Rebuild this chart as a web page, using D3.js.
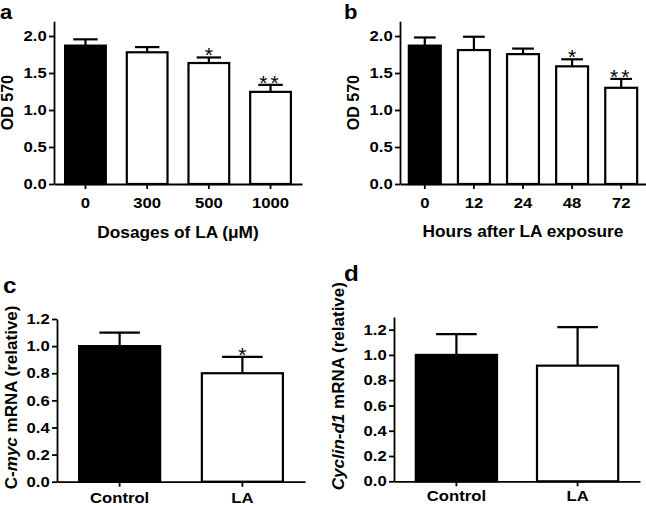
<!DOCTYPE html>
<html>
<head>
<meta charset="utf-8">
<script src="https://cdn.jsdelivr.net/npm/d3@7"></script>
<style>
  html, body { margin: 0; padding: 0; background: #fff; }
  svg { display: block; }
</style>
</head>
<body>
<svg id="chart" width="646" height="506"></svg>
<script>
// ---- Panel a: OD 570 vs dosage ----
const aCategories = ["0", "300", "500", "1000"];
const aMeans = [1.87, 1.78, 1.635, 1.245];
const aSem = [0.085, 0.07, 0.075, 0.095];
const aSig = ["", "", "*", "**"];

// ---- Panel b: OD 570 vs hours ----
const bCategories = ["0", "12", "24", "48", "72"];
const bMeans = [1.87, 1.81, 1.755, 1.59, 1.30];
const bSem = [0.11, 0.18, 0.075, 0.095, 0.12];
const bSig = ["", "", "", "*", "**"];

// ---- Panel c: C-myc mRNA ----
const cCategories = ["Control", "LA"];
const cMeans = [1.0, 0.80];
const cSem = [0.10, 0.12];
const cSig = ["", "*"];

// ---- Panel d: Cyclin-d1 mRNA ----
const dCategories = ["Control", "LA"];
const dMeans = [1.0, 0.915];
const dSem = [0.165, 0.305];
const dSig = ["", ""];

// tick values
const odTicks = [0.0, 0.5, 1.0, 1.5, 2.0];
const mrnaTicks = [0.0, 0.2, 0.4, 0.6, 0.8, 1.0, 1.2];

const FONT = "'Liberation Sans', Arial, Helvetica, sans-serif";
const svg = d3.select("#chart");

function styleText(sel, size, weight) {
  sel.style("font-family", FONT).style("font-size", size + "px")
     .style("font-weight", weight || "bold").style("fill", "#000");
  return sel;
}

function panel(cfg) {
  const g = svg.append("g");
  const x = d3.scaleBand().domain(cfg.categories)
    .range([cfg.left, cfg.right]).paddingInner(cfg.pi).paddingOuter(0.18);
  const y = d3.scaleLinear().domain([0, cfg.ymax]).range([cfg.bottom, cfg.top]);

  const data = cfg.categories.map((c, i) => ({c, m: cfg.means[i], s: cfg.sem[i], sig: cfg.sig[i], i}));
  const bars = g.selectAll("g.bar").data(data).join("g");
  const capW = x.bandwidth() * cfg.capFrac;
  const cx = d => x(d.c) + x.bandwidth() / 2;
  bars.append("line")
    .attr("x1", cx).attr("x2", cx)
    .attr("y1", d => y(d.m)).attr("y2", d => y(d.m + d.s))
    .attr("stroke", "#000").attr("stroke-width", 2.2);
  bars.append("line")
    .attr("x1", d => cx(d) - capW / 2).attr("x2", d => cx(d) + capW / 2)
    .attr("y1", d => y(d.m + d.s)).attr("y2", d => y(d.m + d.s))
    .attr("stroke", "#000").attr("stroke-width", 2.2);
  bars.append("rect")
    .attr("x", d => x(d.c)).attr("width", x.bandwidth())
    .attr("y", d => y(d.m)).attr("height", d => y(0) - y(d.m))
    .attr("fill", d => d.i === 0 ? "#000" : "#fff")
    .attr("stroke", "#000").attr("stroke-width", 2.2);
  styleText(bars.filter(d => d.sig).append("text")
    .attr("x", cx)
    .attr("y", d => y(d.m + d.s) + 5)
    .attr("text-anchor", "middle")
    .attr("letter-spacing", d => d.sig.length > 1 ? 3 : 0)
    .text(d => d.sig), 21, "normal");

  const ya = g.append("g").attr("transform", `translate(${cfg.left},0)`)
    .call(d3.axisLeft(y).tickValues(cfg.ticks).tickFormat(d3.format(".1f")).tickSize(5).tickSizeOuter(0).tickPadding(1.4));
  const xa = g.append("g").attr("transform", `translate(0,${cfg.bottom})`)
    .call(d3.axisBottom(x).tickSize(5).tickSizeOuter(0).tickPadding(cfg.xpad));
  [ya, xa].forEach(a => {
    a.select(".domain").attr("stroke-width", 1.8);
    a.selectAll(".tick line").attr("stroke-width", 1.8);
    styleText(a.selectAll("text"), 14.5, "bold").attr("transform", "scale(1.15,1)");
  });

  if (cfg.xtitle) {
    styleText(g.append("text")
      .attr("transform", `translate(${(cfg.left + cfg.right) / 2},${cfg.xtitleY}) scale(1.08,1)`)
      .attr("text-anchor", "middle").text(cfg.xtitle), 16, "bold");
  }
  const yt = styleText(g.append("text")
    .attr("transform", `translate(${cfg.ytitleX},${(cfg.top + cfg.bottom) / 2 + (cfg.ytitleDy || 0)}) rotate(-90)`)
    .attr("text-anchor", "middle"), cfg.ytitleSize, "bold");
  cfg.ytitle.forEach(p => yt.append("tspan").style("font-style", p.italic ? "italic" : "normal").text(p.t));

  styleText(g.append("text").attr("transform", `translate(${cfg.letterX},${cfg.letterY}) scale(1.1,1)`)
    .text(cfg.letter), cfg.letterSize, "bold");
}

panel({
  categories: aCategories, means: aMeans, sem: aSem, sig: aSig,
  left: 54, right: 302, top: 21.2, bottom: 184, ymax: 2.2, pi: 0.34, capFrac: 0.6,
  ticks: odTicks, xpad: 9, xtitle: "Dosages of LA (\u03BCM)", xtitleY: 238,
  ytitle: [{t: "OD 570"}], ytitleX: 13, ytitleSize: 16, ytitleDy: 0,
  letter: "a", letterX: 0, letterY: 19, letterSize: 20
});
panel({
  categories: bCategories, means: bMeans, sem: bSem, sig: bSig,
  left: 400, right: 646, top: 21.2, bottom: 184, ymax: 2.2, pi: 0.35, capFrac: 0.68,
  ticks: odTicks, xpad: 9, xtitle: "Hours after LA exposure", xtitleY: 237,
  ytitle: [{t: "OD 570"}], ytitleX: 359, ytitleSize: 16, ytitleDy: 0,
  letter: "b", letterX: 344, letterY: 19, letterSize: 20
});
panel({
  categories: cCategories, means: cMeans, sem: cSem, sig: cSig,
  left: 57, right: 305, top: 319, bottom: 481.7, ymax: 1.2, pi: 0.34, capFrac: 0.5,
  ticks: mrnaTicks, xpad: 6, xtitle: null,
  ytitle: [{t: "C-"}, {t: "myc", italic: true}, {t: " mRNA (relative)"}], ytitleX: 17, ytitleSize: 17, ytitleDy: -3,
  letter: "c", letterX: 3, letterY: 293, letterSize: 22
});
panel({
  categories: dCategories, means: dMeans, sem: dSem, sig: dSig,
  left: 394, right: 640, top: 317, bottom: 481.3, ymax: 1.3, pi: 0.33, capFrac: 0.5,
  ticks: mrnaTicks, xpad: 4, xtitle: null,
  ytitle: [{t: "Cyclin-d1", italic: true}, {t: " mRNA (relative)"}], ytitleX: 344, ytitleSize: 17, ytitleDy: -13,
  letter: "d", letterX: 344, letterY: 281, letterSize: 22
});
</script>
</body>
</html>
